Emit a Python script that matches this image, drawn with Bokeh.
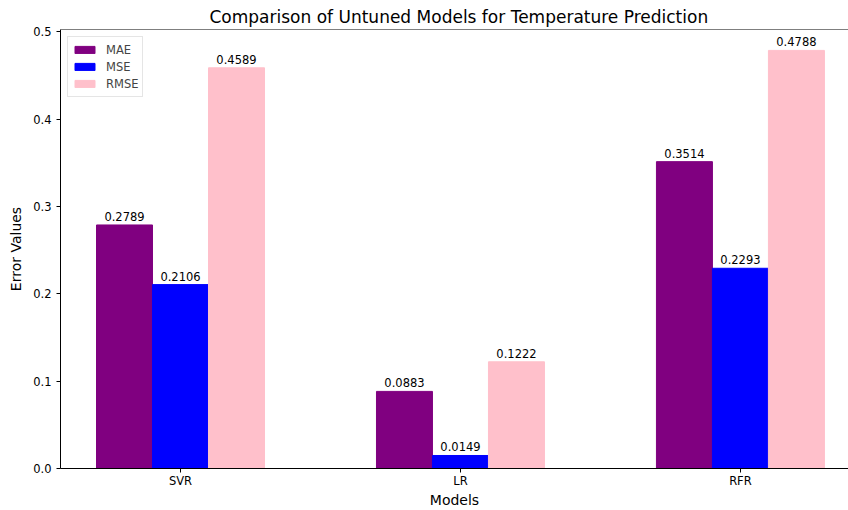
from bokeh.plotting import figure
from bokeh.models import ColumnDataSource, Range1d, FixedTicker, Legend, LegendItem, Span
from bokeh.embed import file_html
from bokeh.resources import INLINE
from bokeh.core.properties import value

models = ["SVR", "LR", "RFR"]
mae = [0.2789, 0.0883, 0.3514]
mse = [0.2106, 0.0149, 0.2293]
rmse = [0.4589, 0.1222, 0.4788]
metric_names = ["MAE", "MSE", "RMSE"]
metric_colors = ["#800080", "#0000ff", "#ffc0cb"]
y_ticks = [0.0, 0.1, 0.2, 0.3, 0.4, 0.5]

FONT = "DejaVu Sans"
SMALL = "11.5px"
bar_w = 0.2
y_top = max(max(mae), max(mse), max(rmse)) * 1.05

p = figure(width=848, height=510, output_backend="svg", toolbar_location=None,
           x_range=Range1d(-0.4286, 2.386), y_range=Range1d(0, y_top),
           min_border_left=60, min_border_right=0, min_border_top=29, min_border_bottom=40)
p.outline_line_color = None
p.grid.visible = False
p.background_fill_color = "white"

p.title.text = "Comparison of Untuned Models for Temperature Prediction"
p.title.align = "left"
p.title.offset = 149
p.title.text_font = FONT
p.title.text_font_size = "17px"
p.title.text_font_style = "normal"
p.title.text_color = "black"
p.title.standoff = 5

items = []
for i, (name, vals, col) in enumerate(zip(metric_names, [mae, mse, rmse], metric_colors)):
    off = (i - 1) * bar_w
    src = ColumnDataSource(dict(x=[j + off for j in range(len(models))], top=vals,
                                lab=[f"{v:.4f}" for v in vals]))
    r = p.vbar(x="x", top="top", width=bar_w, source=src, fill_color=col, line_color=col)
    p.text(x="x", y="top", text="lab", source=src, y_offset=-4, text_align="center",
           text_baseline="bottom", text_font=value(FONT), text_font_size=SMALL,
           text_color="#000000")
    items.append(LegendItem(label=name, renderers=[r]))

leg = Legend(items=items, location="top_left", margin=7, padding=4, spacing=0,
             glyph_width=25, glyph_height=9, label_standoff=9, label_height=17,
             label_text_font=FONT, label_text_font_size=SMALL,
             border_line_color="#cccccc", background_fill_alpha=0.8)
p.add_layout(leg)

p.add_layout(Span(location=y_top, dimension="width", line_color="black", line_width=1))

for ax in (p.xaxis, p.yaxis):
    ax.axis_line_color = "black"
    ax.major_tick_line_color = "black"
    ax.major_tick_out = 4
    ax.major_tick_in = 0
    ax.minor_tick_line_color = None
    ax.major_label_text_font = FONT
    ax.major_label_text_font_size = SMALL
    ax.major_label_text_color = "black"
    ax.axis_label_text_font = FONT
    ax.axis_label_text_font_size = "14px"
    ax.axis_label_text_font_style = "normal"
    ax.axis_label_text_color = "black"

p.xaxis.ticker = FixedTicker(ticks=list(range(len(models))))
p.xaxis.major_label_overrides = {j: m for j, m in enumerate(models)}
p.xaxis.major_label_standoff = 1
p.yaxis.ticker = FixedTicker(ticks=y_ticks)
p.yaxis.major_label_overrides = {t: f"{t:.1f}" for t in y_ticks}
p.yaxis.major_label_standoff = 5

p.yaxis.axis_label = "Error Values"
p.yaxis.axis_label_standoff = 6
p.xaxis.axis_label = "Models"
p.xaxis.axis_label_standoff = 1

open("out.html", "w").write(file_html(p, INLINE))
